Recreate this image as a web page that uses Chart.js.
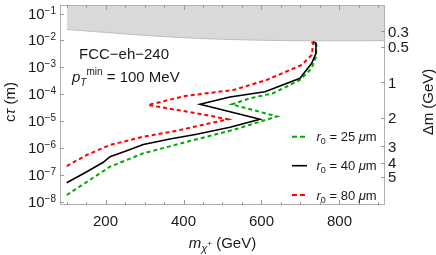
<!DOCTYPE html>
<html>
<head>
<meta charset="utf-8">
<script src="https://cdn.jsdelivr.net/npm/chart.js@4/dist/chart.umd.min.js"></script>
<style>html,body{margin:0;padding:0;background:#fff}</style>
</head>
<body>
<canvas id="c" width="436" height="255"></canvas>
<script>
// ─── data ────────────────────────────────────────────────────
// contours go round the excluded region: lower branch out to the tip, back in, then up
const massG = [100.5, 151.8, 211.5, 296.9, 433.8, 527, 639.7, 523.6, 570.5, 629.5, 698.7, 728.7, 739.7, 741, 734.6];
const ctauG = [1.82e-8, 5.53e-8, 2.05e-7, 6.44e-7, 2.13e-6, 4.72e-6, 1.50e-5, 4.25e-5, 7.10e-5, 1.09e-4, 3.40e-4, 9.23e-4, 2.49e-3, 6.76e-3, 8.75e-3];

const massK = [100.5, 147.4, 194.4, 211.5, 254.4, 296.9, 365.4, 433.8, 519.2, 596.2, 442.3, 519.2, 609, 698.7, 728.7, 739.7, 739.7, 732];
const ctauK = [5.21e-8, 1.22e-7, 2.99e-7, 4.82e-7, 8.04e-7, 1.37e-6, 2.19e-6, 3.27e-6, 5.94e-6, 1.18e-5, 4.25e-5, 7.93e-5, 1.25e-4, 3.93e-4, 1.42e-3, 3.33e-3, 7.82e-3, 8.97e-3];

const massR = [100.5, 151.8, 211.5, 296.9, 373, 468, 514, 433.8, 309, 403.8, 527.7, 613, 703, 728.7, 732.8, 727];
const ctauR = [2.17e-7, 5.57e-7, 1.31e-6, 2.66e-6, 4.15e-6, 8.38e-6, 1.18e-5, 1.97e-5, 4.00e-5, 8.65e-5, 1.44e-4, 3.40e-4, 1.23e-3, 2.88e-3, 7.82e-3, 9.12e-3];

// grey excluded band at the top
const massBand = [101, 186, 288, 417, 571, 699, 917];
const ctauBand = [2.55e-2, 2.06e-2, 1.59e-2, 1.23e-2, 1.04e-2, 9.77e-3, 9.77e-3];

// axes
const xTicks = [200, 400, 600, 800];
const yTickExp = [-1, -2, -3, -4, -5, -6, -7, -8];
const dmLabels = ['0.3', '0.5', '1', '2', '3', '4', '5'];
const dmCtau = [2.24e-2, 5.85e-3, 2.86e-4, 1.32e-5, 1.20e-6, 2.81e-7, 8.49e-8];

const legendLabels = ['25', '40', '80'];
const GREEN = '#00aa00', RED = '#ff0000', BLACK = '#000000';

const FONT = '"Liberation Sans", Arial, sans-serif';
const TXT = '#1a1a1a';

const pts = (xs, ys) => xs.map((x, i) => ({ x, y: ys[i] }));

// draw a run of text pieces (font, y offset) one after the other
function rich(ctx, x, y, parts, align) {
  let w = 0;
  parts.forEach(p => { ctx.font = p.f; w += ctx.measureText(p.t).width; });
  let cx = align === 'center' ? x - w / 2 : align === 'right' ? x - w : x;
  parts.forEach(p => {
    ctx.font = p.f;
    ctx.fillText(p.t, cx, y + (p.dy || 0));
    cx += ctx.measureText(p.t).width;
  });
}

const decor = {
  id: 'decor',
  afterDraw(chart) {
    const { ctx, chartArea: a, scales: { x, y } } = chart;
    ctx.save();
    // frame
    ctx.strokeStyle = '#b0b0b0';
    ctx.lineWidth = 1;
    ctx.strokeRect(a.left + 0.5, a.top + 0.5, a.right - a.left - 1, a.bottom - a.top - 1);

    // x ticks, bottom and top, pointing inwards
    ctx.strokeStyle = '#9a9a9a';
    ctx.beginPath();
    for (let m = 100; m <= 900; m += 50) {
      const px = Math.round(x.getPixelForValue(m)) + 0.5;
      const len = xTicks.includes(m) ? 5 : 3;
      ctx.moveTo(px, a.bottom); ctx.lineTo(px, a.bottom - len);
      ctx.moveTo(px, a.top); ctx.lineTo(px, a.top + len);
    }
    // left decade ticks
    yTickExp.forEach(e => {
      const py = Math.round(y.getPixelForValue(Math.pow(10, e))) + 0.5;
      ctx.moveTo(a.left, py); ctx.lineTo(a.left + 4, py);
    });
    // right Δm ticks
    dmCtau.forEach(v => {
      const py = Math.round(y.getPixelForValue(v)) + 0.5;
      ctx.moveTo(a.right, py); ctx.lineTo(a.right - 4, py);
    });
    ctx.stroke();

    ctx.fillStyle = TXT;
    ctx.textBaseline = 'alphabetic';
    const f15 = '15px ' + FONT, f10 = '10px ' + FONT;

    // tick labels
    xTicks.forEach(m => rich(ctx, x.getPixelForValue(m), 226, [{ t: String(m), f: f15 }], 'center'));
    yTickExp.forEach(e => {
      const py = y.getPixelForValue(Math.pow(10, e));
      rich(ctx, 56, py + 5, [{ t: '10', f: f15 }, { t: '\u2212' + (-e), f: f10, dy: -5 }], 'right');
    });
    dmLabels.forEach((l, i) => {
      const py = y.getPixelForValue(dmCtau[i]);
      rich(ctx, 388, py + 5.5, [{ t: l, f: f15 }]);
    });

    // axis titles
    const cx = (a.left + a.right) / 2;
    rich(ctx, cx, 248, [
      { t: 'm', f: 'italic 15px ' + FONT },
      { t: '\u03c7', f: 'italic 11px ' + FONT, dy: 4 },
      { t: '+', f: '8px ' + FONT, dy: -2 },
      { t: ' (GeV)', f: f15 }
    ], 'center');

    ctx.save();
    ctx.translate(15, 102);
    ctx.rotate(-Math.PI / 2);
    rich(ctx, 0, 0, [{ t: 'c', f: f15 }, { t: '\u03c4', f: 'italic 15px ' + FONT }, { t: ' (m)', f: f15 }], 'center');
    ctx.restore();

    ctx.save();
    ctx.translate(433, 102);
    ctx.rotate(-Math.PI / 2);
    rich(ctx, 0, 0, [{ t: '\u0394m (GeV)', f: f15 }], 'center');
    ctx.restore();

    // annotation
    rich(ctx, 79, 58.5, [{ t: 'FCC\u2212eh\u2212240', f: f15 }]);
    rich(ctx, 72, 82, [
      { t: 'p', f: 'italic 15px ' + FONT },
      { t: 'T', f: 'italic 10px ' + FONT, dy: 4 },
      { t: 'min', f: f10, dy: -7 },
      { t: ' = 100 MeV', f: f15 }
    ]);

    // legend
    const cols = [GREEN, BLACK, RED];
    const ly = [136.7, 165.7, 195];
    cols.forEach((c, i) => {
      ctx.strokeStyle = c;
      ctx.lineWidth = i === 1 ? 1.6 : 2;
      ctx.setLineDash(i === 1 ? [] : [5, 3]);
      ctx.beginPath();
      ctx.moveTo(292, ly[i]); ctx.lineTo(307, ly[i]);
      ctx.stroke();
      ctx.setLineDash([]);
      const f13 = '13px ' + FONT;
      rich(ctx, 316.5, ly[i] + 4.5, [
        { t: 'r', f: 'italic 13px ' + FONT },
        { t: '0', f: '9px ' + FONT, dy: 3 },
        { t: ' = ' + legendLabels[i] + ' ', f: f13 },
        { t: '\u03bc', f: 'italic 13px ' + FONT },
        { t: 'm', f: f13 }
      ]);
    });
    ctx.restore();
  }
};

new Chart(document.getElementById('c'), {
  type: 'scatter',
  data: {
    datasets: [
      { data: pts(massBand, ctauBand), showLine: true, fill: 'end', backgroundColor: '#d9d9d9',
        borderColor: '#bdbdbd', borderWidth: 1, pointRadius: 0, tension: 0.4, order: 10 },
      { data: pts(massG, ctauG), showLine: true, borderColor: GREEN, borderWidth: 2,
        borderDash: [4, 3], pointRadius: 0, order: 3 },
      { data: pts(massK, ctauK), showLine: true, borderColor: BLACK, borderWidth: 1.6,
        pointRadius: 0, order: 2 },
      { data: pts(massR, ctauR), showLine: true, borderColor: RED, borderWidth: 2,
        borderDash: [4, 3], pointRadius: 0, order: 1 }
    ]
  },
  options: {
    responsive: false,
    animation: false,
    devicePixelRatio: 1,
    layout: { padding: { left: 60, right: 51, top: 5, bottom: 50 } },
    plugins: { legend: { display: false }, tooltip: { enabled: false } },
    scales: {
      x: { type: 'linear', min: 83.3, max: 916.7, display: false },
      y: { type: 'logarithmic', min: Math.pow(10, -8.111), max: Math.pow(10, -0.684), display: false }
    }
  },
  plugins: [decor]
});
</script>
</body>
</html>
